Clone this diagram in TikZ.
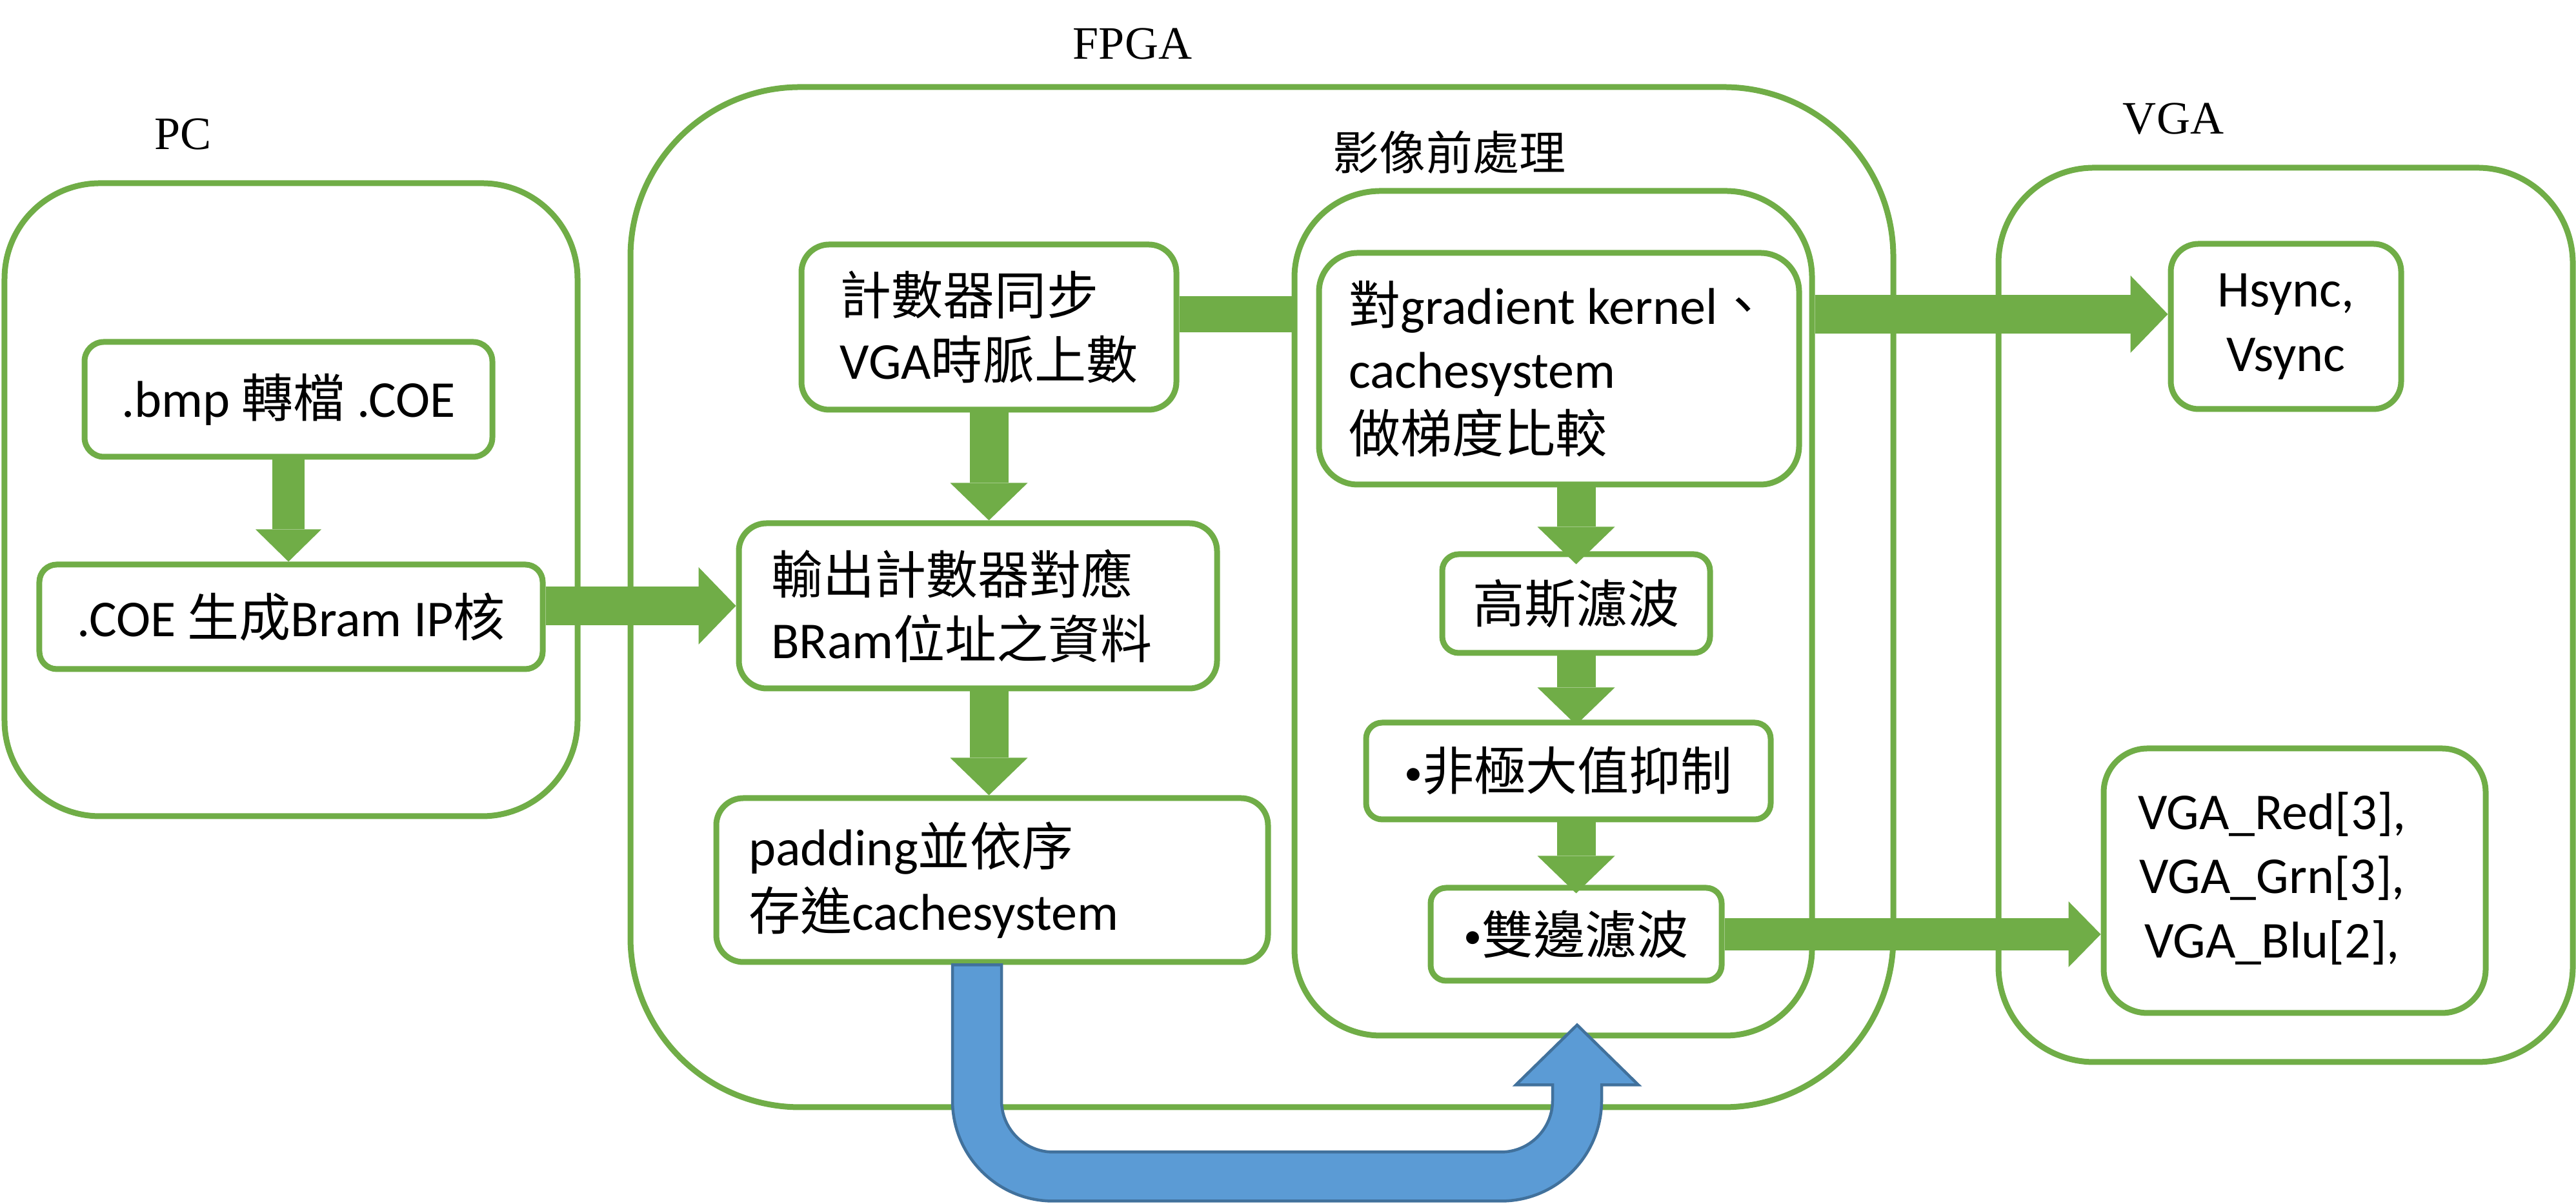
\documentclass[tikz,border=0pt]{standalone}
\usepackage{fontspec}
\setmainfont{Carlito}
\newfontfamily\cjk{Noto Sans CJK TC}
\newfontfamily\grpfont{Liberation Serif}
\usetikzlibrary{arrows.meta}
\definecolor{boxgreen}{HTML}{70AD47}
\definecolor{pipeblue}{HTML}{5B9BD5}
\definecolor{pipeedge}{HTML}{41719C}
\newcommand{\zh}[1]{{\cjk #1}}
\newcommand{\dotmark}{\raisebox{2.5pt}{\fontsize{16}{16}\selectfont •}}
\newcommand{\bodysize}{\fontsize{22.8}{28.4}\selectfont}
\newcommand{\grpsize}{\fontsize{20.5}{24}\selectfont}

\tikzset{
  groupbox/.style={draw=boxgreen, line width=0.9mm, rounded corners=#1},
  stepbox/.style={draw=boxgreen, line width=0.9mm, fill=white, font=\bodysize, rounded corners=#1},
  grouplabel/.style={font=\grpfont\grpsize},
  blockarrow/.style={draw=boxgreen, line width=6mm, -{Triangle[length=5.8mm, width=12mm, line width=0pt]}},
  blocksm/.style={draw=boxgreen, line width=5mm, -{Triangle[length=5mm, width=10.2mm, line width=0pt]}},
  blockbar/.style={draw=boxgreen, line width=5.6mm},
  pipe/.style={fill=pipeblue, draw=pipeedge, line width=0.45mm}
}

\begin{document}
\begin{tikzpicture}
        \useasboundingbox (0,0) rectangle (39.92,18.66);
        % groups
        \node[groupbox=1.48cm, minimum width=8.88cm, minimum height=9.81cm] (pc) at (4.51,10.915) {};
        \node[groupbox=2.63cm, minimum width=19.57cm, minimum height=15.81cm] (fpga) at (19.555,9.405) {};
        \node[groupbox=1.34cm, minimum width=8.02cm, minimum height=13.09cm] (proc) at (24.07,9.155) {};
        \node[groupbox=1.48cm, minimum width=8.90cm, minimum height=13.86cm] (vga) at (35.42,9.13) {};
        \node[grouplabel] (pclabel) at (2.84,16.58) {PC};
        \node[grouplabel] (fpgalabel) at (17.55,17.98) {FPGA};
        \node[grouplabel, font=\cjk\grpsize] (proclabel) at (22.46,16.30) {影像前處理};
        \node[grouplabel] (vgalabel) at (33.68,16.82) {VGA};
        % PC
        \node[stepbox=0.30cm, minimum width=6.32cm, minimum height=1.78cm] (bmp) at (4.47,12.47) {.bmp \zh{轉檔} .COE};
        \node[stepbox=0.27cm, minimum width=7.80cm, minimum height=1.62cm] (coe) at (4.51,9.10) {.COE \zh{生成}Bram IP\zh{核}};
        % FPGA
        \node[stepbox=0.43cm, minimum width=5.81cm, minimum height=2.56cm, align=left] (cnt) at (15.325,13.59) {\zh{計數器同步}\\VGA\zh{時脈上數}};
        \node[stepbox=0.43cm, text width=6.41cm, inner xsep=5mm, minimum height=2.56cm, align=left] (out) at (15.155,9.27) {\zh{輸出計數器對應}\\BRam\zh{位址之資料}};
        \node[stepbox=0.42cm, text width=7.55cm, inner xsep=5mm, minimum height=2.54cm, align=left] (pad) at (15.375,5.02) {padding\zh{並依序}\\\zh{存進}cachesystem};
        \node[stepbox=0.60cm, minimum width=7.44cm, minimum height=3.59cm, align=left] (grad) at (24.16,12.945) {\zh{對}gradient kernel\zh{、}\\cachesystem\\\zh{做梯度比較}};
        \node[stepbox=0.255cm, minimum width=4.15cm, minimum height=1.53cm] (gauss) at (24.425,9.305) {\zh{高斯濾波}};
        \node[stepbox=0.25cm, minimum width=6.27cm, minimum height=1.50cm] (nms) at (24.305,6.71) {\dotmark\zh{非極大值抑制}};
        \node[stepbox=0.24cm, minimum width=4.51cm, minimum height=1.44cm] (bil) at (24.425,4.18) {\dotmark\zh{雙邊濾波}};
        % VGA
        \node[stepbox=0.43cm, minimum width=3.57cm, minimum height=2.56cm, align=center] (sync) at (35.425,13.60) {Hsync,\\Vsync};
        \node[stepbox=0.68cm, minimum width=5.92cm, minimum height=4.10cm] (rgb) at (35.56,5.01) {\begin{tabular}{@{}c@{}}VGA\_Red[3],\\VGA\_Grn[3],\\VGA\_Blu[2],\end{tabular}\hspace*{7mm}};
        % block arrows
        \draw[blocksm] (bmp.south) -- (bmp.south |- coe.north);
        \draw[blockarrow] (out.west -| coe.east) -- (out.west);
        \draw[blockarrow] (cnt.south) -- (cnt.south |- out.north);
        \draw[blockarrow] (cnt.south |- out.south) -- (cnt.south |- pad.north);
        \draw[blockbar] ([yshift=2mm]cnt.east) -- ([yshift=2mm]cnt.east -| proc.west);
        \draw[blockarrow] ([yshift=1.9mm]sync.west -| proc.east) -- ([yshift=1.9mm]sync.west);
        \draw[blockarrow] (gauss.north |- grad.south) -- ([yshift=-2mm]gauss.north);
        \draw[blockarrow] (gauss.south) -- ([yshift=-0.8mm]gauss.south |- nms.north);
        \draw[blockarrow] (bil.north |- nms.south) -- ([yshift=-1.3mm]bil.north);
        \draw[blocksm] (bil.east) -- (bil.east -| rgb.west);
        % cache path into the filters
        \draw[pipe] ([xshift=-6.15mm]pad.south) -- ++(0.76,0) -- ++(0,-2.10)
            arc[start angle=180, end angle=270, radius=0.8] -- ++(6.94,0)
            arc[start angle=270, end angle=360, radius=0.8] -- ++(0,0.24)
            -- ++(-0.57,0) -- ++(0.95,0.93) -- ++(0.95,-0.93) -- ++(-0.57,0) -- ++(0,-0.24)
            arc[start angle=0, end angle=-90, radius=1.56] -- ++(-6.94,0)
            arc[start angle=270, end angle=180, radius=1.56] -- cycle;
\end{tikzpicture}
\end{document}
